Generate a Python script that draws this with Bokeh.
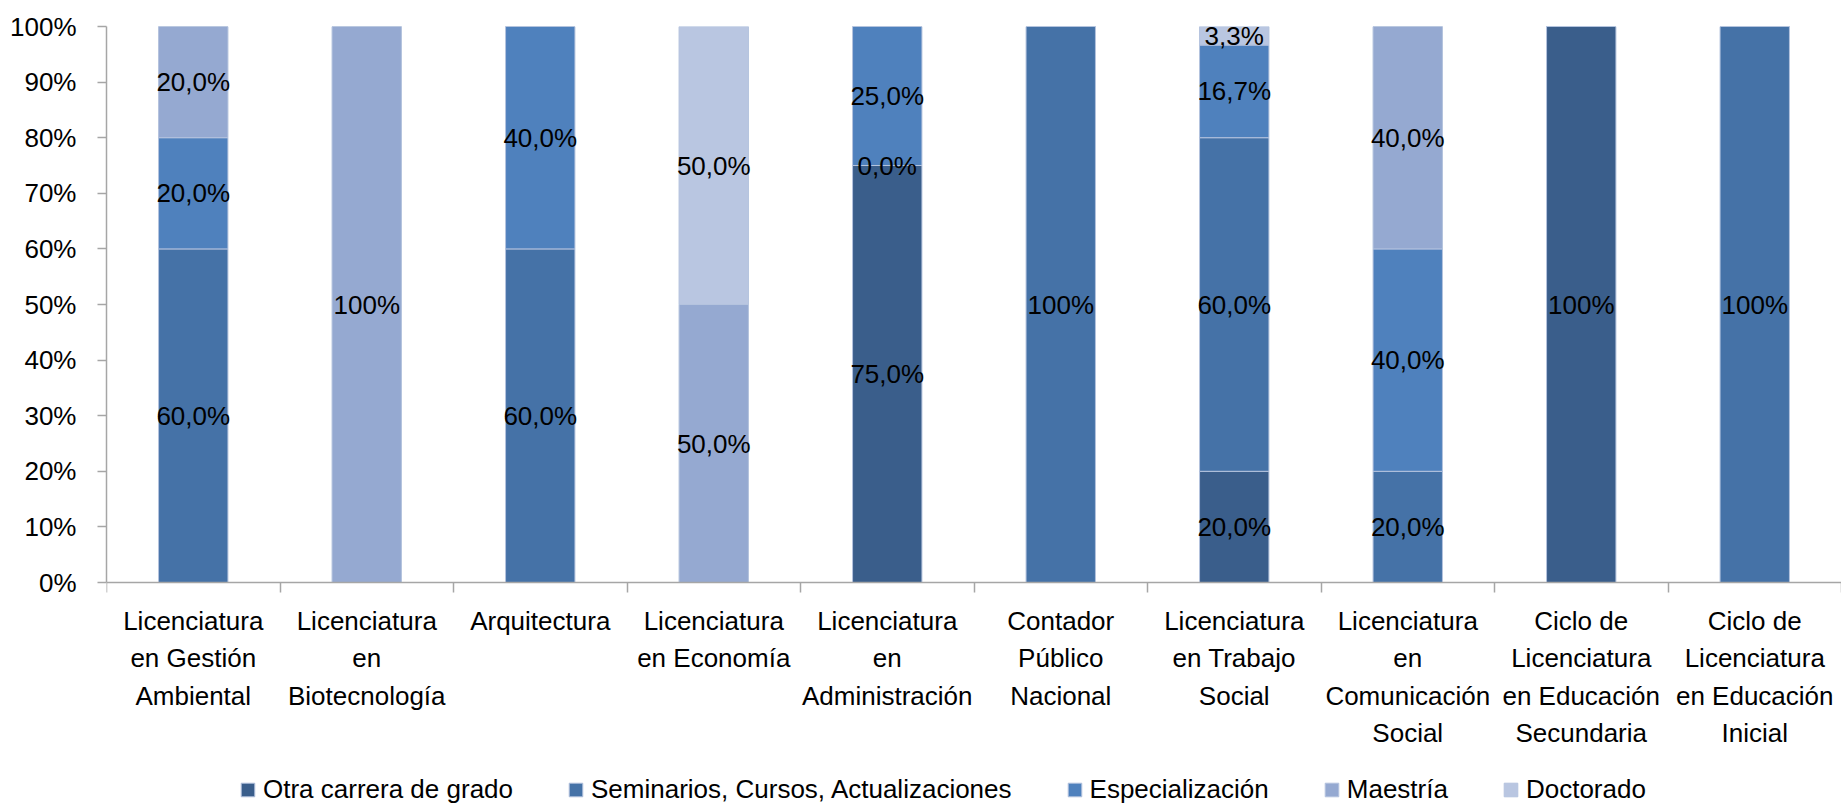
from bokeh.plotting import figure
from bokeh.models import (Range1d, FixedTicker, PrintfTickFormatter, Legend,
                          LegendItem, LabelSet, ColumnDataSource)
from bokeh.core.properties import value
from bokeh.embed import file_html
from bokeh.resources import INLINE

categories = [
    "Licenciatura\nen Gestión\nAmbiental",
    "Licenciatura\nen\nBiotecnología",
    "Arquitectura",
    "Licenciatura\nen Economía",
    "Licenciatura\nen\nAdministración",
    "Contador\nPúblico\nNacional",
    "Licenciatura\nen Trabajo\nSocial",
    "Licenciatura\nen\nComunicación\nSocial",
    "Ciclo de\nLicenciatura\nen Educación\nSecundaria",
    "Ciclo de\nLicenciatura\nen Educación\nInicial",
]
series = ["Otra carrera de grado", "Seminarios, Cursos, Actualizaciones",
          "Especialización", "Maestría", "Doctorado"]
otra = [None, None, None, None, 75.0, None, 20.0, None, 100.0, None]
seminarios = [60.0, None, 60.0, None, 0.0, 100.0, 60.0, 20.0, None, 100.0]
especializacion = [20.0, None, 40.0, None, 25.0, None, 16.7, 40.0, None, None]
maestria = [20.0, 100.0, None, 50.0, None, None, None, 40.0, None, None]
doctorado = [None, None, None, 50.0, None, None, 3.3, None, None, None]
y_ticks = [0, 10, 20, 30, 40, 50, 60, 70, 80, 90, 100]

colors = ["#3A5E8B", "#4572A7", "#4F81BD", "#95A9D1", "#B9C6E1"]
FONT = "Liberation Sans"
FS = "26px"
GRAY = "#A6A6A6"

# plot area: value axis 0..100 spans 556 px; space below the axis (223 px)
# holds category labels and legend inside the frame
PLOT_H = 556
BELOW_H = 223
y_min = -100.0 * BELOW_H / PLOT_H

all_series = [otra, seminarios, especializacion, maestria, doctorado]
keys = ["s0", "s1", "s2", "s3", "s4"]
n = len(categories)
xs = [i + 0.5 for i in range(n)]
data = {"x": xs}
for k, s in zip(keys, all_series):
    data[k] = [0.0 if v is None else v for v in s]
source = ColumnDataSource(data)

p = figure(frame_width=1735, frame_height=PLOT_H + BELOW_H, output_backend="svg",
           toolbar_location=None, x_range=Range1d(0, n),
           y_range=Range1d(y_min, 100),
           min_border_left=106, min_border_right=0, min_border_top=26,
           min_border_bottom=0)
p.outline_line_color = None
p.xgrid.visible = False
p.ygrid.visible = False
p.background_fill_color = "white"
p.border_fill_color = "white"

renderers = p.vbar_stack(keys, x="x", width=0.4, color=colors, source=source,
                         line_color="#B4C3DE", line_width=1)

# segment labels
lx, ly, lt = [], [], []
for i in range(n):
    base = 0.0
    for s in all_series:
        v = s[i]
        if v is None:
            continue
        lx.append(xs[i])
        ly.append(base + v / 2.0)
        lt.append("100%" if v == 100 else f"{v:.1f}".replace(".", ",") + "%")
        base += v
lab_src = ColumnDataSource(dict(x=lx, y=ly, t=lt))
labels = LabelSet(x="x", y="y", text="t", source=lab_src, text_align="center",
                  text_baseline="middle", text_font=value(FONT),
                  text_font_size=value(FS), text_color="black")
p.add_layout(labels)

# y axis
yax = p.yaxis[0]
yax.ticker = FixedTicker(ticks=y_ticks)
yax.bounds = (0, 100)
yax.formatter = PrintfTickFormatter(format="%d%%")
yax.major_label_text_font = FONT
yax.major_label_text_font_size = FS
yax.major_label_text_color = "black"
yax.axis_line_color = GRAY
yax.axis_line_width = 1.5
yax.major_tick_line_color = GRAY
yax.major_tick_line_width = 1.5
yax.major_tick_out = 9
yax.major_tick_in = 0
yax.minor_tick_line_color = None
yax.major_label_standoff = 21

# x axis, drawn at value 0
xax = p.xaxis[0]
xax.fixed_location = 0
xax.ticker = FixedTicker(ticks=xs, minor_ticks=list(range(n + 1)))
xax.major_label_overrides = {x: c for x, c in zip(xs, categories)}
xax.major_label_text_font = FONT
xax.major_label_text_font_size = FS
xax.major_label_text_color = "black"
xax.major_label_text_line_height = 1.25
xax.major_tick_line_color = None
xax.major_tick_out = 0
xax.major_tick_in = 0
xax.minor_tick_line_color = GRAY
xax.minor_tick_line_width = 1.5
xax.minor_tick_out = 10
xax.minor_tick_in = 0
xax.axis_line_color = GRAY
xax.axis_line_width = 1.5
xax.major_label_standoff = 13

legend = Legend(items=[LegendItem(label=s, renderers=[r]) for s, r in zip(series, renderers)],
                orientation="horizontal", location=(133, 0),
                label_text_font=FONT, label_text_font_size=FS,
                label_text_color="black", glyph_width=17, glyph_height=17,
                label_standoff=7, spacing=54, padding=0, margin=0,
                border_line_color=None, background_fill_alpha=0)
p.add_layout(legend, "center")

open("out.html", "w").write(file_html(p, INLINE))
